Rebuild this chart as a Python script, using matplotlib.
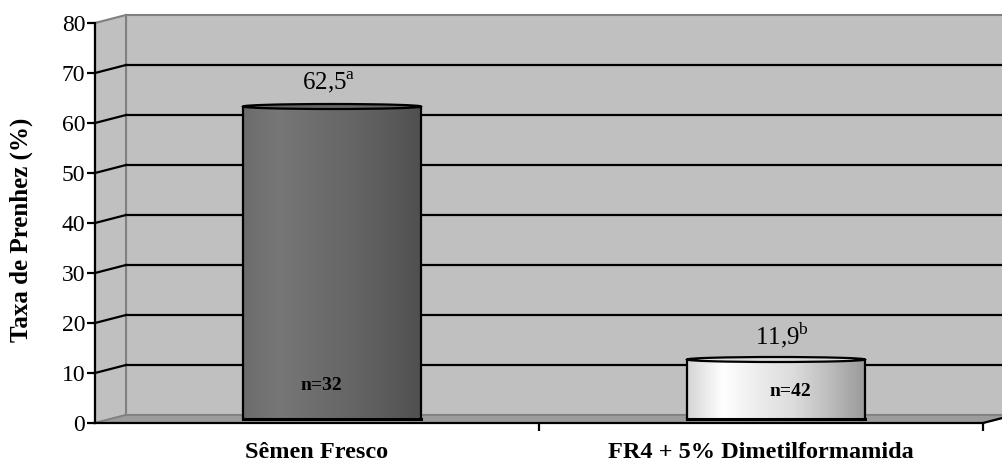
import numpy as np
import matplotlib
matplotlib.use("Agg")
import matplotlib.pyplot as plt
from matplotlib.patches import Rectangle, Polygon, Ellipse
from matplotlib.colors import LinearSegmentedColormap

plt.rcParams['font.family'] = ['Liberation Serif', 'DejaVu Serif']
plt.rcParams['mathtext.fontset'] = 'custom'
plt.rcParams['mathtext.rm'] = 'Liberation Serif'

# dados
categorias = ['Sêmen Fresco', 'FR4 + 5% Dimetilformamida']
taxa = [62.5, 11.9]
letras = ['a', 'b']
n_animais = ['n=32', 'n=42']
y_ticks = [0, 10, 20, 30, 40, 50, 60, 70, 80]

# gradientes dos cilindros
grad_cores = [
    ['#6c6c6c', '#777777', '#6e6e6e', '#666666', '#5c5c5c', '#505050'],
    ['#d4d4d4', '#ffffff', '#ececec', '#dcdcdc', '#bdbdbd', '#9a9a9a'],
]
# deslocamento (px) dos rotulos em relacao ao centro da barra
off_valor = [-3, 6]
off_n = [(-11, 33), (14, 28)]

fig = plt.figure(figsize=(10.02, 4.62), dpi=100)
W_PX, H_PX = 888, 400
ax = fig.add_axes([95 / 1002, 39 / 462, W_PX / 1002, H_PX / 462])
x0, x1 = -0.5, len(categorias) - 0.5
y0, y1 = 0, 80
ax.set_xlim(x0, x1)
ax.set_ylim(y0, y1)
ax.patch.set_visible(False)

# pixel -> unidade de dados
px_x = (x1 - x0) / W_PX
px_y = (y1 - y0) / H_PX
dx, dy = 31 * px_x, 8 * px_y

# paredes
ax.add_patch(Rectangle((x0 + dx, y0 + dy), x1 - x0, y1 - y0, facecolor='#c0c0c0',
                       edgecolor='#808080', lw=1.5, clip_on=False, zorder=0))
ax.add_patch(Polygon([(x0, y0), (x0, y1), (x0 + dx, y1 + dy), (x0 + dx, y0 + dy)],
                     closed=True, facecolor='#c0c0c0', edgecolor='#808080', lw=1.5,
                     clip_on=False, zorder=0))
ax.add_patch(Polygon([(x0, y0), (x1, y0), (x1 + dx, y0 + dy), (x0 + dx, y0 + dy)],
                     closed=True, facecolor='#9c9c9c', edgecolor='#808080', lw=1.2,
                     clip_on=False, zorder=1))

# linhas de grade
for v in y_ticks[1:-1]:
    ax.plot([x0 + dx, x1 + dx], [v + dy, v + dy], color='black', lw=1.6, clip_on=False, zorder=1)
    ax.plot([x0, x0 + dx], [v, v + dy], color='black', lw=1.6, clip_on=False, zorder=1)
ax.plot([x1, x1 + dx], [y0, y0 + dy], color='black', lw=1.6, clip_on=False, zorder=2)

# cilindros
bw = 178 * px_x
bx, by = 15 * px_x, 4 * px_y
eh = 5 * px_y
for i, v in enumerate(taxa):
    cx = i + bx
    left = cx - bw / 2
    rect = Rectangle((left, by), bw, v, facecolor='none', edgecolor='none', zorder=3)
    ax.add_patch(rect)
    cmap = LinearSegmentedColormap.from_list('g%d' % i, grad_cores[i])
    img = ax.imshow(np.linspace(0, 1, 256)[None, :], cmap=cmap, aspect='auto',
                    extent=[left, left + bw, by, by + v], zorder=3, interpolation='bicubic')
    img.set_clip_path(rect)
    ax.plot([left, left], [by, by + v], color='black', lw=1.6, zorder=4)
    ax.plot([left + bw, left + bw], [by, by + v], color='black', lw=1.6, zorder=4)
    ax.plot([left, left + bw], [by, by], color='black', lw=2.2, zorder=4)
    ax.add_patch(Ellipse((cx, by + v), bw, eh, facecolor=grad_cores[i][3],
                         edgecolor='black', lw=1.6, zorder=4))
    ax.text(cx + off_valor[i] * px_x, by + v + 24 * px_y,
            '%s$^{\\mathrm{%s}}$' % (str(v).replace('.', ','), letras[i]),
            ha='center', va='center', fontsize=18, zorder=5)
    ax.text(cx + off_n[i][0] * px_x, by + off_n[i][1] * px_y, n_animais[i],
            ha='center', va='center', fontsize=14, fontweight='bold', zorder=5)

# eixos
for s in ['top', 'right']:
    ax.spines[s].set_visible(False)
ax.spines['left'].set_linewidth(1.6)
ax.spines['bottom'].set_linewidth(1.6)
ax.spines['left'].set_zorder(6)
ax.spines['bottom'].set_zorder(6)
ax.set_yticks(y_ticks)
ax.set_yticklabels([str(t) for t in y_ticks], fontsize=17)
ax.tick_params(axis='y', length=6, width=1.6, pad=1)
ax.set_xticks(np.arange(len(categorias)) + 0.5)
ax.set_xticklabels([])
ax.set_xticks(np.arange(len(categorias)), minor=True)
ax.set_xticklabels(categorias, minor=True, fontsize=17.5, fontweight='bold')
ax.tick_params(axis='x', which='major', length=6, width=1.6)
ax.tick_params(axis='x', which='minor', length=0, pad=14)
ax.set_ylabel('Taxa de Prenhez (%)', fontsize=18, fontweight='bold')
ax.yaxis.set_label_coords(-62 / W_PX, 0.483)

fig.savefig('out.png', dpi=100)
